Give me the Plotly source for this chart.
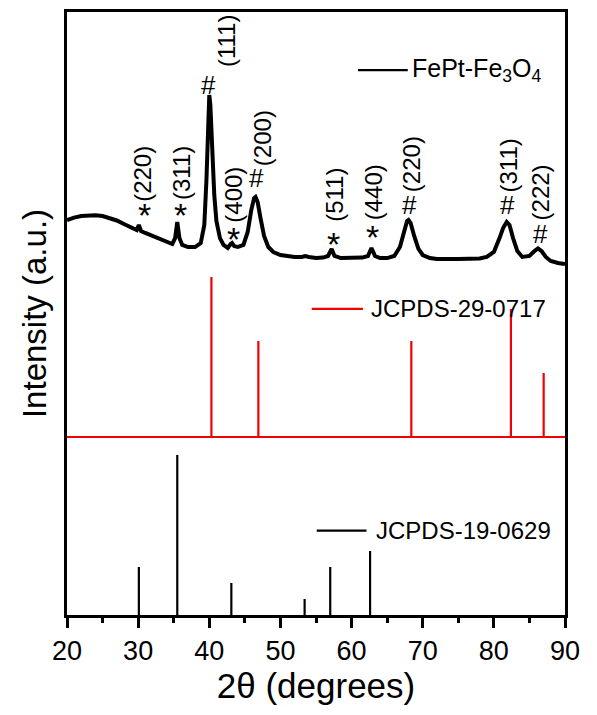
import plotly.graph_objects as go

# ---------------- data ----------------
# measured XRD pattern of FePt-Fe3O4 (2theta, intensity a.u.)
two_theta = [20.0, 20.5, 21.0, 22.0, 23.0, 23.5, 24.0, 25.0, 26.0, 27.0, 28.0, 29.0, 29.8,
             30.1, 30.4, 31.0, 32.0, 33.0, 34.0, 34.8, 35.2, 35.5, 35.8, 36.2, 37.0, 38.0,
             38.8, 39.3, 39.6, 39.85, 40.0, 40.15, 40.4, 40.7, 41.0, 41.5, 42.0, 42.6, 43.0,
             43.2, 43.5, 44.0, 44.8, 45.4, 45.9, 46.3, 46.5, 46.8, 47.2, 47.7, 48.3, 49.0,
             50.0, 51.0, 52.0, 53.0, 53.5, 54.0, 55.0, 56.0, 56.7, 57.2, 57.6, 58.5, 59.5,
             60.5, 61.5, 62.3, 62.8, 63.3, 64.0, 65.0, 66.0, 66.8, 67.4, 67.8, 68.0, 68.3,
             68.8, 69.4, 70.0, 71.0, 72.0, 73.0, 74.0, 75.0, 76.0, 77.0, 78.0, 79.0, 80.0,
             80.8, 81.3, 81.8, 82.2, 82.7, 83.3, 84.0, 85.0, 85.7, 86.2, 86.7, 87.3, 88.0,
             89.0, 90.0]
intensity = [246.9, 247.8, 248.4, 249.4, 249.8, 250.0, 249.8, 249.4, 248.1, 246.6, 244.4, 242.5, 240.6,
             243.8, 240.0, 238.8, 236.9, 235.0, 233.1, 231.9, 235.6, 245.6, 235.6, 231.3, 230.0, 230.0,
             232.5, 243.8, 271.9, 309.4, 325.0, 318.8, 290.6, 262.5, 246.3, 235.6, 231.3, 229.4, 231.9,
             232.5, 230.6, 230.0, 231.3, 239.4, 253.1, 260.6, 261.3, 258.1, 248.1, 236.9, 230.0, 226.9,
             225.0, 224.1, 223.8, 223.8, 224.4, 223.8, 223.1, 223.4, 224.4, 228.8, 224.4, 223.1, 223.1,
             223.1, 223.4, 224.4, 229.4, 224.4, 223.1, 223.1, 224.4, 230.0, 240.6, 246.3, 246.9, 245.0,
             236.9, 228.8, 225.0, 223.1, 222.5, 222.2, 222.5, 222.5, 222.5, 222.5, 222.8, 223.8, 226.9,
             235.6, 241.9, 245.6, 243.8, 235.6, 227.5, 223.8, 224.4, 227.5, 229.1, 227.5, 223.8, 221.3,
             220.0, 219.4]

# JCPDS-29-0717 (FePt) reference lines
fept_pos = [40.3, 46.9, 68.4, 82.4, 87.0]
fept_int = [100, 60, 60, 80, 40]

# JCPDS-19-0629 (Fe3O4) reference lines
fe3o4_pos = [30.1, 35.5, 43.1, 53.4, 57.0, 62.6]
fe3o4_int = [30, 100, 20, 10, 30, 40]

# peak labels
peak_marks = ["*", "*", "#", "*", "#", "*", "*", "#", "#", "#"]
peak_hkl = ["(220)", "(311)", "(111)", "(400)", "(200)", "(511)", "(440)", "(220)", "(311)", "(222)"]

# ---------------- layout constants ----------------
FEPT_BASE = 111.25
FE3O4_BASE = 0.0
Y_MAX = 376.9
RED = "#f00000"
FONT = "Arial, Liberation Sans, sans-serif"

mark_xy = [(30.9, 250.0), (35.9, 250.0), (39.9, 331.0), (43.4, 235.0), (46.6, 273.0),
           (57.4, 232.0), (62.9, 236.5), (68.1, 256.0), (81.9, 256.0), (86.5, 238.0)]
hkl_xy = [(30.6, 276.0), (36.1, 276.0), (42.4, 359.0), (43.4, 263.0), (47.4, 298.0),
          (57.5, 262.5), (63.1, 264.0), (68.4, 282.0), (82.0, 281.0), (86.6, 264.0)]


def sticks(pos, inten, base):
    xs, ys = [], []
    for p, h in zip(pos, inten):
        xs += [p, p, None]
        ys += [base, base + h, None]
    return xs, ys


fig = go.Figure()

fig.add_trace(go.Scatter(x=two_theta, y=intensity, mode="lines",
                         line=dict(color="black", width=4), showlegend=False,
                         hoverinfo="skip"))

fx, fy = sticks(fept_pos, fept_int, FEPT_BASE)
fig.add_trace(go.Scatter(x=[20, 90], y=[FEPT_BASE, FEPT_BASE], mode="lines",
                         line=dict(color=RED, width=2.2), showlegend=False))
fig.add_trace(go.Scatter(x=fx, y=fy, mode="lines", line=dict(color=RED, width=2.2),
                         showlegend=False))

bx, by = sticks(fe3o4_pos, fe3o4_int, FE3O4_BASE)
fig.add_trace(go.Scatter(x=bx, y=by, mode="lines", line=dict(color="black", width=2.2),
                         showlegend=False))

annotations = []
for m, (mx, my) in zip(peak_marks, mark_xy):
    annotations.append(dict(x=mx, y=my, text=m, showarrow=False, xanchor="center",
                            yanchor="middle",
                            font=dict(family=FONT, size=34 if m == "*" else 26, color="black")))
for h, (hx, hy) in zip(peak_hkl, hkl_xy):
    annotations.append(dict(x=hx, y=hy, text=h, showarrow=False, textangle=-90,
                            xanchor="center", yanchor="middle",
                            font=dict(family=FONT, size=24, color="black")))

legend_items = [
    ("FePt-Fe<sub>3</sub>O<sub>4</sub>", "black", 60.9, 67.9, 340.6, 68.2, 25),
    ("JCPDS-29-0717", RED, 54.4, 61.6, 191.3, 62.5, 24),
    ("JCPDS-19-0629", "black", 55.1, 62.1, 52.7, 63.2, 24),
]
shapes = []
for txt, col, x0, x1, yy, tx, fs in legend_items:
    shapes.append(dict(type="line", xref="x", yref="y", x0=x0, x1=x1, y0=yy, y1=yy,
                       line=dict(color=col, width=2.2)))
    annotations.append(dict(x=tx, y=yy, text=txt, showarrow=False, xanchor="left",
                            yanchor="middle",
                            font=dict(family=FONT, size=fs, color="black")))

fig.update_layout(
    width=589, height=707,
    margin=dict(l=59, r=32, t=4, b=100, autoexpand=False),
    paper_bgcolor="white", plot_bgcolor="white",
    showlegend=False,
    annotations=annotations,
    shapes=shapes,
    font=dict(family=FONT, color="black"),
)
fig.update_xaxes(
    range=[20, 90], dtick=10, tick0=20, automargin=False,
    ticks="outside", ticklen=10, tickwidth=2.5, tickcolor="black",
    minor=dict(ticks="outside", ticklen=5, dtick=5, tickwidth=2.5, tickcolor="black"),
    showline=True, linewidth=2.5, linecolor="black", mirror=True,
    showgrid=False, zeroline=False,
    tickfont=dict(family=FONT, size=27, color="black"),
    title=dict(text="2θ (degrees)", font=dict(family=FONT, size=35, color="black"),
               standoff=8),
)
fig.update_yaxes(
    range=[0, Y_MAX], showticklabels=False, ticks="", automargin=False,
    showline=True, linewidth=2.5, linecolor="black", mirror=True,
    showgrid=False, zeroline=False,
    title=dict(text="Intensity (a.u.)", font=dict(family=FONT, size=33, color="black"),
               standoff=8),
)

fig.write_html("out.html")
